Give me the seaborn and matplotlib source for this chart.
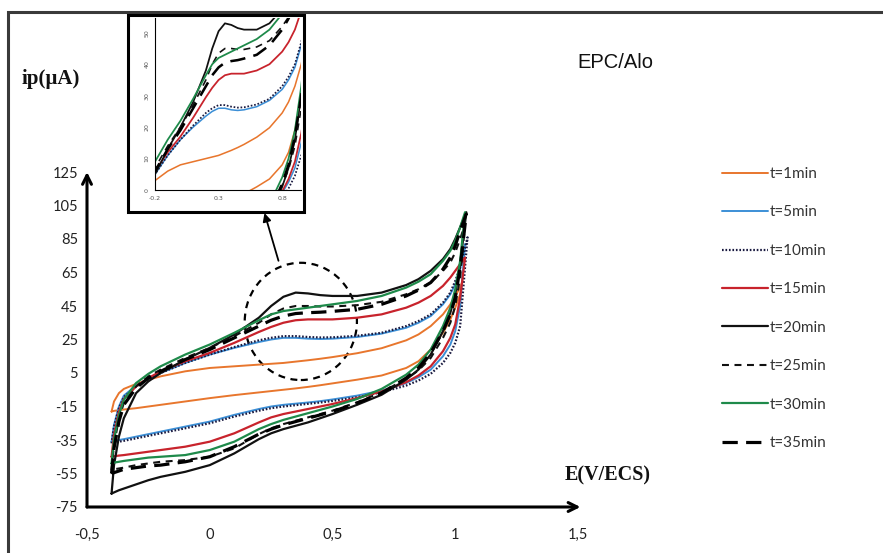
import numpy as np
import pandas as pd
import matplotlib
matplotlib.use("Agg")
import matplotlib.pyplot as plt
import seaborn as sns
from matplotlib.patches import Ellipse, Rectangle

# Potential grid (V vs ECS) shared by the forward and reverse branches
E_grid = [-0.40, -0.39, -0.37, -0.35, -0.30, -0.25, -0.20, -0.10, 0.00, 0.10,
          0.20, 0.25, 0.30, 0.35, 0.40, 0.45, 0.50, 0.60, 0.70, 0.80,
          0.85, 0.90, 0.95, 0.98, 1.00, 1.02]

labels = ["t=1min", "t=5min", "t=10min", "t=15min",
          "t=20min", "t=25min", "t=30min", "t=35min"]

# Forward (anodic) branch currents, µA
fwd_1 = [-18, -12, -7, -4.5, -1.5, 1, 3, 6, 8, 9,
         10, 10.5, 11, 11.8, 12.6, 13.5, 14.5, 16.8, 19.8, 24.5,
         28, 33, 40, 46, 51, 56]
fwd_5 = [-36, -26, -15, -8.5, -2.5, 1.5, 5, 11, 16, 20,
         23.5, 25, 26, 26, 25.5, 25.3, 25.5, 26.5, 28.5, 32,
         35, 39, 46, 52, 58, 67]
fwd_10 = [-37, -27, -16, -9.5, -3, 1.5, 5, 11, 16, 20.5,
          24.5, 26, 27, 27, 26.5, 26.2, 26.3, 27.2, 29, 33,
          36, 40, 47, 53, 60, 68]
fwd_15 = [-45, -32, -18, -10.5, -3, 2, 6, 12, 17, 23,
          29.5, 32.5, 35, 36.5, 37, 37, 37, 38, 40, 44,
          47, 51, 57, 62, 66, 70]
fwd_20 = [-67, -50, -33, -22, -7, 0, 5, 13, 20, 28,
          38, 45, 50.5, 53, 52.5, 51.5, 51, 51, 53, 57.5,
          61, 66, 73, 79, 85, 92]
fwd_25 = [-53, -38, -22, -13, -3, 3, 7, 14, 20, 27,
          35, 40, 43.5, 45, 45, 44.7, 44.7, 45.5, 47.5, 52,
          55, 59, 66, 71, 77, 85]
fwd_30 = [-49, -35, -20, -11, -1, 4.5, 9, 16, 22, 29,
          36.5, 40, 42, 43, 44, 45, 46, 48, 51, 56,
          59.5, 64, 72, 78, 84, 92]
fwd_35 = [-55, -40, -24, -14, -4, 2, 6, 13, 19, 26,
          33, 36.5, 39, 40.5, 41, 41.3, 41.8, 43, 46, 51,
          54.5, 59, 67, 74, 81, 90]

# Reverse (cathodic) branch currents, µA
rev_1 = [-18, -17.6, -17.2, -16.8, -16, -15, -14, -12, -10, -8.2,
         -6.6, -5.8, -5, -4.2, -3.3, -2.3, -1.2, 1, 3.5, 8,
         12, 19, 29, 37, 44, 52]
rev_5 = [-36, -35.5, -35, -34.5, -33, -31.5, -30, -27, -24, -20,
         -16.5, -15, -14, -13.3, -12.6, -11.8, -10.8, -8.5, -5.5, -1,
         2.5, 7, 15, 22, 30, 45]
rev_10 = [-37, -36.5, -36, -35.5, -34, -32.5, -31, -28, -25, -21,
          -17.5, -16, -15, -14.2, -13.4, -12.6, -11.7, -9.5, -6.5, -2.5,
          0.5, 4.5, 11, 17, 23, 33]
rev_15 = [-45, -44.7, -44.3, -44, -43, -42, -41, -39, -36, -31,
          -24.5, -21.5, -19.5, -18, -16.5, -15, -13.5, -10, -6, -0.5,
          3.5, 9, 18, 26, 34, 50]
rev_20 = [-67, -66.3, -65, -64, -61.5, -59, -57, -54, -50, -43,
          -34.5, -31, -28.5, -26.5, -24.5, -22, -19.5, -14, -8, 1,
          7, 16, 30, 41, 52, 70]
rev_25 = [-53, -52.5, -52, -51.5, -50, -49, -48, -47, -45, -40,
          -31.5, -28, -25.5, -23.5, -21.5, -19.5, -17.5, -12.5, -6.5, 1.5,
          6.5, 14, 26, 35, 45, 62]
rev_30 = [-49, -48.5, -48, -47.5, -46.5, -45.5, -45, -44, -41, -36,
          -28.5, -25.5, -23, -21, -19, -17, -15, -10.5, -4.5, 4,
          10, 19, 33, 44, 55, 72]
rev_35 = [-55, -54.5, -53.5, -52.5, -51.5, -50.5, -50, -48, -45, -39,
          -31.5, -28.5, -26, -24, -22, -20, -18, -13, -7, 2,
          8, 17, 30, 40, 50, 68]

# Switching point of each scan (E, i)
vertex_E = [1.03, 1.04, 1.05, 1.04, 1.045, 1.04, 1.04, 1.045]
vertex_i = [60, 82, 86, 74, 101, 94, 101, 100]

fwd = [fwd_1, fwd_5, fwd_10, fwd_15, fwd_20, fwd_25, fwd_30, fwd_35]
rev = [rev_1, rev_5, rev_10, rev_15, rev_20, rev_25, rev_30, rev_35]

colors = ["#E8762D", "#3C8FD6", "#1A1A40", "#C8232C",
          "#111111", "#111111", "#1E8A4A", "#000000"]
styles = ["-", "-", (0, (1.2, 1.3)), "-", "-", (0, (5, 4)), "-", (0, (11, 6))]
widths = [1.4, 1.4, 1.6, 1.6, 1.6, 1.5, 1.6, 2.3]

x_ticks = [-0.5, 0, 0.5, 1, 1.5]
x_ticklabels = ["-0,5", "0", "0,5", "1", "1,5"]
y_ticks = [125, 105, 85, 65, 45, 25, 5, -15, -35, -55, -75]
y_ticklabels = ["125", "105", "85", "65", "45", "25", "5",
                "-15", "-35", "-55", "-75"]

inset_xticks = [-0.2, 0.3, 0.8]
inset_xticklabels = ["-0.2", "0.3", "0.8"]
inset_yticks = [0, 10, 20, 30, 40, 50]

frames = []
for lab, f, r, ve, vi in zip(labels, fwd, rev, vertex_E, vertex_i):
    E = E_grid + [ve] + E_grid[::-1]
    I = f + [vi] + r[::-1]
    frames.append(pd.DataFrame({"E": E, "i": I, "series": lab,
                                "order": np.arange(len(E))}))
df = pd.concat(frames, ignore_index=True)

sns.set_style("white")
plt.rcParams["lines.scale_dashes"] = False
plt.rcParams["lines.solid_joinstyle"] = "round"

W, H = 883, 553
fig = plt.figure(figsize=(W / 100, H / 100), dpi=100)


def fx(px):
    return px / W


def fy(py):
    return 1 - py / H


# page frame
fig.patches.append(Rectangle((fx(8), fy(600)), fx(900), fy(12) - fy(600),
                             transform=fig.transFigure, fill=False,
                             ec="#3a3a3a", lw=2.2))

ax = fig.add_axes([fx(87), fy(507), fx(578) - fx(87), fy(172) - fy(507)])
ax.set_facecolor("none")

for lab, c, ls, lw in zip(labels, colors, styles, widths):
    sub = df[df["series"] == lab]
    sns.lineplot(data=sub, x="E", y="i", sort=False, estimator=None,
                 color=c, linestyle=ls, linewidth=lw, ax=ax, label=lab,
                 legend=False)

ax.set_xlim(-0.5, 1.5)
ax.set_ylim(-75, 125)
ax.set_xticks(x_ticks)
ax.set_xticklabels(x_ticklabels)
ax.set_yticks(y_ticks)
ax.set_yticklabels(y_ticklabels)
ax.set_xlabel("")
ax.set_ylabel("")
for s in ax.spines.values():
    s.set_visible(False)
ax.tick_params(axis="both", which="major", length=5, width=2, color="black",
               labelsize=10.5, direction="out")
ax.tick_params(axis="x", pad=10)
ax.tick_params(axis="y", pad=1.5)
for t in ax.get_xticklabels() + ax.get_yticklabels():
    t.set_fontfamily("Lato")
    t.set_color("#222222")

# axes drawn as arrows
ax.annotate("", xy=(0, 1.0), xytext=(0, 0), xycoords="axes fraction",
            arrowprops=dict(arrowstyle="->", lw=2.2, color="black",
                            mutation_scale=16, shrinkA=0, shrinkB=0))
ax.annotate("", xy=(1.005, 0), xytext=(0, 0), xycoords="axes fraction",
            arrowprops=dict(arrowstyle="->", lw=2.2, color="black",
                            mutation_scale=16, shrinkA=0, shrinkB=0))

# zoom region and pointer towards the inset
ax.add_patch(Ellipse((0.371, 35.8), 0.457, 70, fill=False, ls=(0, (5, 4)),
                     lw=1.6, ec="black", clip_on=False))
ax.annotate("", xy=(0.223, 100.5), xytext=(0.28, 72), xycoords="data",
            arrowprops=dict(arrowstyle="-|>", lw=1.3, color="black",
                            mutation_scale=12, shrinkA=0, shrinkB=0),
            annotation_clip=False)

# axis titles and sample name
fig.text(fx(22), fy(79), "ip(µA)", family="Liberation Serif", weight="bold",
         fontsize=15, va="center", ha="left", color="#111111")
fig.text(fx(565), fy(475), "E(V/ECS)", family="Liberation Serif", weight="bold",
         fontsize=14.5, va="center", ha="left", color="#111111")
fig.text(fx(577), fy(62), "EPC/Alo", family="Liberation Sans",
         fontsize=14.5, va="center", ha="left", color="#111111")

# legend
handles, labs = ax.get_legend_handles_labels()
leg = fig.legend(handles, labs, loc="upper left",
                 bbox_to_anchor=(fx(722), fy(167)), frameon=False,
                 handlelength=3.0, handletextpad=0.15, labelspacing=1.6,
                 borderpad=0, borderaxespad=0,
                 prop={"family": "Lato", "size": 11})
for t in leg.get_texts():
    t.set_color("#333333")

# inset: close-up of the oxidation peak region
fig.patches.append(Rectangle((fx(128), fy(212)), fx(304) - fx(128),
                             fy(15) - fy(212), transform=fig.transFigure,
                             fill=True, fc="white", ec="black", lw=2.2,
                             zorder=3))
axi = fig.add_axes([fx(155), fy(190), fx(301) - fx(155), fy(18) - fy(190)],
                   zorder=4)
axi.set_facecolor("none")
for lab, c, ls, lw in zip(labels, colors, styles, widths):
    sub = df[df["series"] == lab]
    sns.lineplot(data=sub, x="E", y="i", sort=False, estimator=None,
                 color=c, linestyle=ls, linewidth=lw * 0.8, ax=axi,
                 legend=False)
axi.set_xlim(-0.2, 0.948)
axi.set_ylim(0, 54.7)
axi.set_xticks(inset_xticks)
axi.set_xticklabels(inset_xticklabels)
axi.set_yticks(inset_yticks)
axi.set_xlabel("")
axi.set_ylabel("")
axi.spines["top"].set_visible(False)
axi.spines["right"].set_visible(False)
for s in ("left", "bottom"):
    axi.spines[s].set_linewidth(0.8)
    axi.spines[s].set_color("black")
axi.tick_params(axis="both", length=2, width=0.6, labelsize=4.5, pad=2,
                direction="out", colors="#555555")
for t in axi.get_yticklabels():
    t.set_rotation(90)
    t.set_va("center")

fig.savefig("out.png", dpi=100)
